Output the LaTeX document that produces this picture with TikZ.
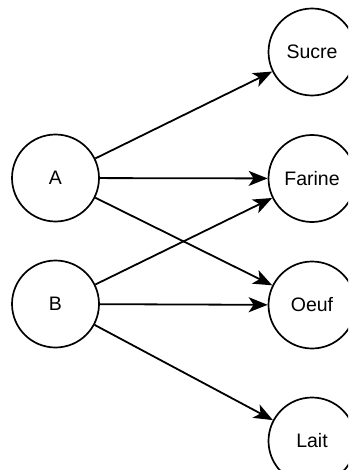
\documentclass[tikz,border=0pt]{standalone}
\usepackage{fontspec}
\setmainfont{Liberation Sans}
\usetikzlibrary{arrows.meta}
\begin{document}
\begin{tikzpicture}[x=1pt,y=-1pt,
  circ/.style={draw, circle, line width=1.7pt, minimum size=87pt, inner sep=0pt, font=\fontsize{19.5}{22}\selectfont},
  arr/.style={line width=1.8pt, -{Stealth[length=19pt, width=15pt, inset=5pt]}}]
\useasboundingbox (0,0) rectangle (348,470);
\clip (0,0) rectangle (348,470);
\fill[white] (0,0) rectangle (348,470);
\node[circ] (A) at (55.5,178) {A};
\node[circ] (B) at (55.5,304) {B};
\node[circ] (S) at (312,52) {Sucre};
\node[circ] (F) at (312,178.5) {Farine};
\node[circ] (O) at (312,305) {Oeuf};
\node[circ] (L) at (312,441) {Lait};
\draw[arr] (A) -- (S);
\draw[arr] (A) -- (F);
\draw[arr] (A) -- (O);
\draw[arr] (B) -- (F);
\draw[arr] (B) -- (O);
\draw[arr] (B) -- (L);
\end{tikzpicture}
\end{document}
